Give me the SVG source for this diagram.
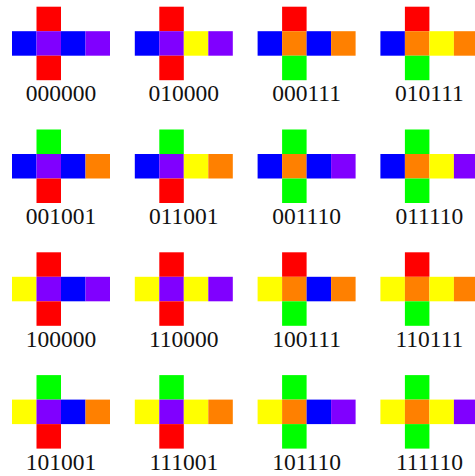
<svg xmlns="http://www.w3.org/2000/svg" width="475" height="476" viewBox="0 0 475 476">
<style>
rect{stroke:none}
.R{fill:#ff0000}.B{fill:#0000ff}.P{fill:#8000ff}.Y{fill:#ffff00}.O{fill:#ff8000}.G{fill:#00ff00}
text{font-family:"Liberation Serif","Times New Roman",serif;font-size:23.5px;fill:#111;text-anchor:middle}
</style>
<rect width="475" height="476" fill="#ffffff"/>
<g id="n000000" transform="translate(12,6.7)">
<rect class="R" x="24.5" y="0" width="24.5" height="24.5"/><rect class="B" x="0" y="24.5" width="24.5" height="24.5"/><rect class="P" x="24.5" y="24.5" width="24.5" height="24.5"/><rect class="B" x="49" y="24.5" width="24.5" height="24.5"/><rect class="P" x="73.5" y="24.5" width="24.5" height="24.5"/><rect class="R" x="24.5" y="49" width="24.5" height="24.5"/>
<text x="49" y="94.7">000000</text></g>
<g id="n010000" transform="translate(134.8,6.7)">
<rect class="R" x="24.5" y="0" width="24.5" height="24.5"/><rect class="B" x="0" y="24.5" width="24.5" height="24.5"/><rect class="P" x="24.5" y="24.5" width="24.5" height="24.5"/><rect class="Y" x="49" y="24.5" width="24.5" height="24.5"/><rect class="P" x="73.5" y="24.5" width="24.5" height="24.5"/><rect class="R" x="24.5" y="49" width="24.5" height="24.5"/>
<text x="49" y="94.7">010000</text></g>
<g id="n000111" transform="translate(257.6,6.7)">
<rect class="R" x="24.5" y="0" width="24.5" height="24.5"/><rect class="B" x="0" y="24.5" width="24.5" height="24.5"/><rect class="O" x="24.5" y="24.5" width="24.5" height="24.5"/><rect class="B" x="49" y="24.5" width="24.5" height="24.5"/><rect class="O" x="73.5" y="24.5" width="24.5" height="24.5"/><rect class="G" x="24.5" y="49" width="24.5" height="24.5"/>
<text x="49" y="94.7">000111</text></g>
<g id="n010111" transform="translate(380.4,6.7)">
<rect class="R" x="24.5" y="0" width="24.5" height="24.5"/><rect class="B" x="0" y="24.5" width="24.5" height="24.5"/><rect class="O" x="24.5" y="24.5" width="24.5" height="24.5"/><rect class="Y" x="49" y="24.5" width="24.5" height="24.5"/><rect class="O" x="73.5" y="24.5" width="24.5" height="24.5"/><rect class="G" x="24.5" y="49" width="24.5" height="24.5"/>
<text x="49" y="94.7">010111</text></g>
<g id="n001001" transform="translate(12,129.5)">
<rect class="G" x="24.5" y="0" width="24.5" height="24.5"/><rect class="B" x="0" y="24.5" width="24.5" height="24.5"/><rect class="P" x="24.5" y="24.5" width="24.5" height="24.5"/><rect class="B" x="49" y="24.5" width="24.5" height="24.5"/><rect class="O" x="73.5" y="24.5" width="24.5" height="24.5"/><rect class="R" x="24.5" y="49" width="24.5" height="24.5"/>
<text x="49" y="94.7">001001</text></g>
<g id="n011001" transform="translate(134.8,129.5)">
<rect class="G" x="24.5" y="0" width="24.5" height="24.5"/><rect class="B" x="0" y="24.5" width="24.5" height="24.5"/><rect class="P" x="24.5" y="24.5" width="24.5" height="24.5"/><rect class="Y" x="49" y="24.5" width="24.5" height="24.5"/><rect class="O" x="73.5" y="24.5" width="24.5" height="24.5"/><rect class="R" x="24.5" y="49" width="24.5" height="24.5"/>
<text x="49" y="94.7">011001</text></g>
<g id="n001110" transform="translate(257.6,129.5)">
<rect class="G" x="24.5" y="0" width="24.5" height="24.5"/><rect class="B" x="0" y="24.5" width="24.5" height="24.5"/><rect class="O" x="24.5" y="24.5" width="24.5" height="24.5"/><rect class="B" x="49" y="24.5" width="24.5" height="24.5"/><rect class="P" x="73.5" y="24.5" width="24.5" height="24.5"/><rect class="G" x="24.5" y="49" width="24.5" height="24.5"/>
<text x="49" y="94.7">001110</text></g>
<g id="n011110" transform="translate(380.4,129.5)">
<rect class="G" x="24.5" y="0" width="24.5" height="24.5"/><rect class="B" x="0" y="24.5" width="24.5" height="24.5"/><rect class="O" x="24.5" y="24.5" width="24.5" height="24.5"/><rect class="Y" x="49" y="24.5" width="24.5" height="24.5"/><rect class="P" x="73.5" y="24.5" width="24.5" height="24.5"/><rect class="G" x="24.5" y="49" width="24.5" height="24.5"/>
<text x="49" y="94.7">011110</text></g>
<g id="n100000" transform="translate(12,252.3)">
<rect class="R" x="24.5" y="0" width="24.5" height="24.5"/><rect class="Y" x="0" y="24.5" width="24.5" height="24.5"/><rect class="P" x="24.5" y="24.5" width="24.5" height="24.5"/><rect class="B" x="49" y="24.5" width="24.5" height="24.5"/><rect class="P" x="73.5" y="24.5" width="24.5" height="24.5"/><rect class="R" x="24.5" y="49" width="24.5" height="24.5"/>
<text x="49" y="94.7">100000</text></g>
<g id="n110000" transform="translate(134.8,252.3)">
<rect class="R" x="24.5" y="0" width="24.5" height="24.5"/><rect class="Y" x="0" y="24.5" width="24.5" height="24.5"/><rect class="P" x="24.5" y="24.5" width="24.5" height="24.5"/><rect class="Y" x="49" y="24.5" width="24.5" height="24.5"/><rect class="P" x="73.5" y="24.5" width="24.5" height="24.5"/><rect class="R" x="24.5" y="49" width="24.5" height="24.5"/>
<text x="49" y="94.7">110000</text></g>
<g id="n100111" transform="translate(257.6,252.3)">
<rect class="R" x="24.5" y="0" width="24.5" height="24.5"/><rect class="Y" x="0" y="24.5" width="24.5" height="24.5"/><rect class="O" x="24.5" y="24.5" width="24.5" height="24.5"/><rect class="B" x="49" y="24.5" width="24.5" height="24.5"/><rect class="O" x="73.5" y="24.5" width="24.5" height="24.5"/><rect class="G" x="24.5" y="49" width="24.5" height="24.5"/>
<text x="49" y="94.7">100111</text></g>
<g id="n110111" transform="translate(380.4,252.3)">
<rect class="R" x="24.5" y="0" width="24.5" height="24.5"/><rect class="Y" x="0" y="24.5" width="24.5" height="24.5"/><rect class="O" x="24.5" y="24.5" width="24.5" height="24.5"/><rect class="Y" x="49" y="24.5" width="24.5" height="24.5"/><rect class="O" x="73.5" y="24.5" width="24.5" height="24.5"/><rect class="G" x="24.5" y="49" width="24.5" height="24.5"/>
<text x="49" y="94.7">110111</text></g>
<g id="n101001" transform="translate(12,375.1)">
<rect class="G" x="24.5" y="0" width="24.5" height="24.5"/><rect class="Y" x="0" y="24.5" width="24.5" height="24.5"/><rect class="P" x="24.5" y="24.5" width="24.5" height="24.5"/><rect class="B" x="49" y="24.5" width="24.5" height="24.5"/><rect class="O" x="73.5" y="24.5" width="24.5" height="24.5"/><rect class="R" x="24.5" y="49" width="24.5" height="24.5"/>
<text x="49" y="94.7">101001</text></g>
<g id="n111001" transform="translate(134.8,375.1)">
<rect class="G" x="24.5" y="0" width="24.5" height="24.5"/><rect class="Y" x="0" y="24.5" width="24.5" height="24.5"/><rect class="P" x="24.5" y="24.5" width="24.5" height="24.5"/><rect class="Y" x="49" y="24.5" width="24.5" height="24.5"/><rect class="O" x="73.5" y="24.5" width="24.5" height="24.5"/><rect class="R" x="24.5" y="49" width="24.5" height="24.5"/>
<text x="49" y="94.7">111001</text></g>
<g id="n101110" transform="translate(257.6,375.1)">
<rect class="G" x="24.5" y="0" width="24.5" height="24.5"/><rect class="Y" x="0" y="24.5" width="24.5" height="24.5"/><rect class="O" x="24.5" y="24.5" width="24.5" height="24.5"/><rect class="B" x="49" y="24.5" width="24.5" height="24.5"/><rect class="P" x="73.5" y="24.5" width="24.5" height="24.5"/><rect class="G" x="24.5" y="49" width="24.5" height="24.5"/>
<text x="49" y="94.7">101110</text></g>
<g id="n111110" transform="translate(380.4,375.1)">
<rect class="G" x="24.5" y="0" width="24.5" height="24.5"/><rect class="Y" x="0" y="24.5" width="24.5" height="24.5"/><rect class="O" x="24.5" y="24.5" width="24.5" height="24.5"/><rect class="Y" x="49" y="24.5" width="24.5" height="24.5"/><rect class="P" x="73.5" y="24.5" width="24.5" height="24.5"/><rect class="G" x="24.5" y="49" width="24.5" height="24.5"/>
<text x="49" y="94.7">111110</text></g>
<g id="connectors"></g>
</svg>
